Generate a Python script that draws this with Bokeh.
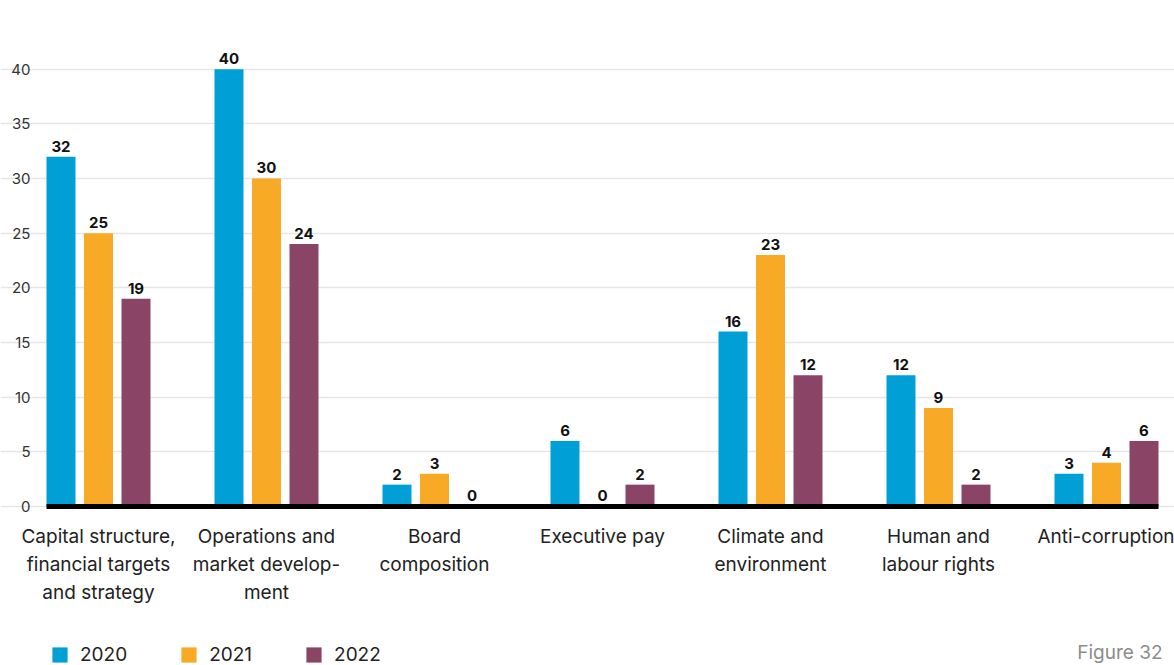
from bokeh.plotting import figure
from bokeh.models import (ColumnDataSource, Range1d, FixedTicker, Legend,
                          LegendItem, Label)
from bokeh.core.properties import value
from bokeh.embed import file_html
from bokeh.resources import INLINE

# Engagement topics and number of dialogues per year
categories = [
    "Capital structure,\nfinancial targets\nand strategy",
    "Operations and\nmarket develop-\nment",
    "Board\ncomposition",
    "Executive pay",
    "Climate and\nenvironment",
    "Human and\nlabour rights",
    "Anti-corruption",
]
years = ["2020", "2021", "2022"]
values_2020 = [32, 40, 2, 6, 16, 12, 3]
values_2021 = [25, 30, 3, 0, 23, 9, 4]
values_2022 = [19, 24, 0, 2, 12, 2, 6]
colors = ["#009fd6", "#f8aa27", "#8a4466"]
y_ticks = [0, 5, 10, 15, 20, 25, 30, 35, 40, 45]

FONT = "Inter"
series = [values_2020, values_2021, values_2022]
offsets = [-0.2232, 0.0, 0.2232]
bar_w = 0.1726
x_lo, x_hi = -0.3095, 6.3095   # extent of the bar area along x

# Frame fills the canvas; both axes are pinned inside it
p = figure(width=1174, height=665, output_backend="svg", toolbar_location=None,
           x_range=Range1d(-0.5833, 6.4048), y_range=Range1d(-14.543, 45),
           min_border_left=0, min_border_right=0, min_border_top=14,
           min_border_bottom=0)
p.outline_line_color = None
p.background_fill_color = "white"
p.border_fill_color = "white"

bars = []
for vals, off, col in zip(series, offsets, colors):
    src = ColumnDataSource(dict(x=[i + off for i in range(len(vals))], top=vals,
                                lbl=[str(v) for v in vals]))
    bars.append(p.vbar(x="x", top="top", width=bar_w, bottom=0, source=src,
                       fill_color=col, line_color=None))
    p.text(x="x", y="top", text="lbl", source=src, text_align="center",
           text_baseline="bottom", y_offset=-5, text_font=value(FONT),
           text_font_style="bold", text_font_size="15px", text_color="#111111")

# Y axis on the left edge of the bar area
p.yaxis.fixed_location = x_lo
p.yaxis.bounds = (0, 45)
p.yaxis.ticker = FixedTicker(ticks=y_ticks)
p.yaxis.major_label_overrides = {45: ""}
p.yaxis.axis_line_color = None
p.yaxis.major_tick_line_color = None
p.yaxis.minor_tick_line_color = None
p.yaxis.major_tick_out = 0
p.yaxis.major_tick_in = 0
p.yaxis.major_label_standoff = 16
p.yaxis.major_label_text_font = FONT
p.yaxis.major_label_text_font_size = "15px"
p.yaxis.major_label_text_color = "#333333"
p.ygrid.ticker = FixedTicker(ticks=y_ticks)
p.ygrid.bounds = (x_lo, x_hi)
p.ygrid.grid_line_color = "#e6e6e6"
p.ygrid.grid_line_width = 1.5
p.xgrid.grid_line_color = None

# X axis at zero: thick black baseline plus category names
p.xaxis.fixed_location = 0
p.xaxis.bounds = (x_lo, x_hi)
p.xaxis.ticker = FixedTicker(ticks=list(range(len(categories))))
p.xaxis.major_label_overrides = {i: c for i, c in enumerate(categories)}
p.xaxis.axis_line_color = "black"
p.xaxis.axis_line_width = 5
p.xaxis.major_tick_line_color = None
p.xaxis.minor_tick_line_color = None
p.xaxis.major_tick_out = 0
p.xaxis.major_tick_in = 0
p.xaxis.major_label_standoff = 19
p.xaxis.major_label_text_font = FONT
p.xaxis.major_label_text_font_size = "19px"
p.xaxis.major_label_text_color = "#222222"

# Year legend
legend = Legend(items=[LegendItem(label=y, renderers=[r]) for y, r in zip(years, bars)],
                orientation="horizontal", location=(50, -1),
                glyph_width=19, glyph_height=19, label_standoff=11, spacing=52,
                padding=0, margin=0, border_line_color=None,
                background_fill_alpha=0, label_text_font=FONT,
                label_text_font_size="19px", label_text_color="#222222")
p.add_layout(legend, "center")

# Figure number caption
p.add_layout(Label(x=1162, y=13, x_units="screen", y_units="screen",
                   text="Figure 32", text_align="right", text_baseline="middle",
                   text_font=FONT, text_font_size="19px", text_color="#8c8c8c"))

open("out.html", "w").write(file_html(p, INLINE))
